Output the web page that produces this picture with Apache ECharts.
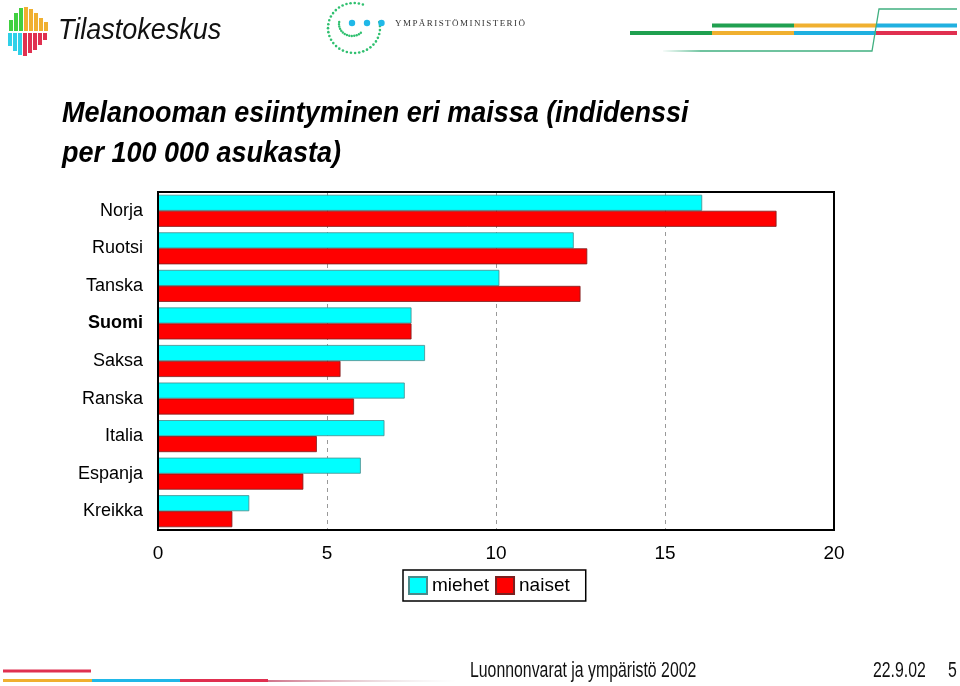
<!DOCTYPE html>
<html>
<head>
<meta charset="utf-8">
<script src="https://cdn.jsdelivr.net/npm/echarts@6/dist/echarts.min.js"></script>
<style>
html,body{margin:0;padding:0;background:#fff;}
#main{width:960px;height:686px;}
</style>
</head>
<body>
<div id="main"></div>
<script>
const categories = ['Norja','Ruotsi','Tanska','Suomi','Saksa','Ranska','Italia','Espanja','Kreikka'];
const miehet = [16.1, 12.3, 10.1, 7.5, 7.9, 7.3, 6.7, 6.0, 2.7];
const naiset = [18.3, 12.7, 12.5, 7.5, 5.4, 5.8, 4.7, 4.3, 2.2];
const xTicks = [0, 5, 10, 15, 20];
const titleLines = ['Melanooman esiintyminen eri maissa (indidenssi', 'per 100 000 asukasta)'];
const footerText = 'Luonnonvarat ja ympäristö 2002';
const dateText = '22.9.02';
const pageText = '5';

const SANS = "'Liberation Sans',Arial,sans-serif";

const chart = echarts.init(document.getElementById('main'), null, {renderer: 'canvas'});

const graphics = [];
// Tilastokeskus logo stripes
const topStripes = [[9,20,31,'#40d040'],[14,13,31,'#40d040'],[19,8,31,'#40d040'],[24,7,31,'#f0b030'],[29,9,31,'#f0b030'],[34,13,31,'#f0b030'],[39,18,31,'#f0b030'],[44,22,31,'#f0b030']];
const botStripes = [[8,33,46,'#30d0e8'],[13,33,51,'#30d0e8'],[18,33,55,'#30d0e8'],[23,33,56,'#e03050'],[28,33,53,'#e03050'],[33,33,50,'#e03050'],[38,33,45,'#e03050'],[43,33,40,'#e03050']];
topStripes.concat(botStripes).forEach(s => {
  graphics.push({type:'rect', shape:{x:s[0], y:s[1], width:4, height:s[2]-s[1]}, style:{fill:s[3]}, silent:true});
});
graphics.push({type:'text', x:58, y:16, scaleX:0.9, style:{text:'Tilastokeskus', font:"italic 30px " + SANS, fill:'#111'}, silent:true});

// Ympäristöministeriö logo (dotted arcs)
for (let i = 0; i < 34; i++) {
  const a = (-70 - i * 9.2) * Math.PI / 180;
  graphics.push({type:'circle', shape:{cx:354 + 26*Math.cos(a), cy:28 + 25*Math.sin(a), r:1.3}, style:{fill:'#30c070'}, silent:true});
}
for (let i = 0; i < 14; i++) {
  const a = (190 - i * 11) * Math.PI / 180;
  graphics.push({type:'circle', shape:{cx:352 + 13*Math.cos(a), cy:24 + 12*Math.sin(a), r:1.2}, style:{fill:'#30c070'}, silent:true});
}
[352, 367, 381.5].forEach(x => graphics.push({type:'circle', shape:{cx:x, cy:23, r:3.2}, style:{fill:'#20b8e8'}, silent:true}));
const ym = 'YMPÄRISTÖMINISTERIÖ';
const ymFont = "9px 'Liberation Serif','DejaVu Serif',serif";
(function(){
  const ctx = document.createElement('canvas').getContext('2d');
  ctx.font = ymFont;
  const widths = Array.from(ym).map(c => ctx.measureText(c).width);
  const total = widths.reduce((a,b)=>a+b,0);
  const extra = (130 - total) / (ym.length - 1);
  let x = 395;
  Array.from(ym).forEach((c, i) => {
    graphics.push({type:'text', x:x, y:19, style:{text:c, font:ymFont, fill:'#333'}, silent:true});
    x += widths[i] + extra;
  });
})();

// top right lines
const segs = [
  [630,712,33,'#20a050'],[712,794,33,'#f0b030'],[794,876,33,'#20b0e0'],[876,957,33,'#e03050'],
  [712,794,25.5,'#20a050'],[794,876,25.5,'#f0b030'],[876,957,25.5,'#20b0e0']
];
segs.forEach(s => graphics.push({type:'line', shape:{x1:s[0], y1:s[2], x2:s[1], y2:s[2]}, style:{stroke:s[3], lineWidth:4}, silent:true}));
graphics.push({type:'polyline', shape:{points:[[700,51],[872,51],[879,9],[957,9]]}, style:{stroke:'#40b080', lineWidth:1.3, fill:null}, silent:true});
graphics.push({type:'line', shape:{x1:663, y1:51, x2:700, y2:51}, style:{stroke:new echarts.graphic.LinearGradient(0,0,1,0,[{offset:0,color:'rgba(64,176,128,0)'},{offset:1,color:'#40b080'}]), lineWidth:1.3}, silent:true});

// footer lines
graphics.push({type:'line', shape:{x1:3, y1:671, x2:91, y2:671}, style:{stroke:'#e03050', lineWidth:3}, silent:true});
[[3,92,'#f0b030'],[92,180,'#20b8e8'],[180,268,'#e03050']].forEach(s => graphics.push({type:'line', shape:{x1:s[0], y1:680.5, x2:s[1], y2:680.5}, style:{stroke:s[2], lineWidth:3}, silent:true}));
graphics.push({type:'line', shape:{x1:268, y1:681, x2:455, y2:681}, style:{stroke:new echarts.graphic.LinearGradient(0,0,1,0,[{offset:0,color:'#c04060'},{offset:1,color:'rgba(200,200,200,0)'}]), lineWidth:1.5}, silent:true});

// footer text (condensed via scaleX)
graphics.push({type:'text', x:470, y:660, scaleX:0.72, style:{text:footerText, font:'22px ' + SANS, fill:'#111'}, silent:true});
graphics.push({type:'text', x:873, y:660, scaleX:0.72, style:{text:dateText, font:'22px ' + SANS, fill:'#111'}, silent:true});
graphics.push({type:'text', x:948, y:660, scaleX:0.72, style:{text:pageText, font:'22px ' + SANS, fill:'#111'}, silent:true});

// title (condensed via scaleX)
graphics.push({type:'text', x:62, y:94, scaleX:0.93, style:{text:titleLines.join('\n'), font:'bold italic 29px ' + SANS, lineHeight:40, fill:'#000'}, silent:true});

// plot frame drawn above dashed grid lines (same box as grid)
graphics.push({type:'rect', z:100, shape:{x:158, y:192, width:676, height:338}, style:{fill:null, stroke:'#000', lineWidth:2}, silent:true});

chart.setOption({
  animation:false,
  backgroundColor:'#fff',
  graphic: graphics,
  grid:{left:158, right:126, top:192, bottom:156, show:false},
  legend:{
    data:['miehet','naiset'], left:403, top:570, itemWidth:18, itemHeight:17, itemGap:6,
    borderColor:'#000', borderWidth:1.5, padding:[6,16,6,5],
    icon:'rect',
    textStyle:{fontFamily:SANS, fontSize:19, color:'#000', padding:[0,0,0,0]}
  },
  xAxis:{
    type:'value', min:0, max:20, interval:5,
    axisLine:{show:false}, axisTick:{show:false},
    splitLine:{show:true, lineStyle:{type:[4,4], color:'#999', width:1}},
    axisLabel:{fontFamily:SANS, fontSize:19, color:'#000', margin:14,
      formatter: v => xTicks.includes(v) ? String(v) : ''}
  },
  yAxis:{
    type:'category', data:categories, inverse:true,
    axisLine:{show:false}, axisTick:{show:false},
    axisLabel:{fontFamily:SANS, fontSize:18, color:'#000', margin:15,
      formatter: v => v === 'Suomi' ? '{b|' + v + '}' : v,
      rich:{b:{fontFamily:SANS, fontSize:18, fontWeight:'bold', color:'#000'}}}
  },
  series:[
    {name:'miehet', type:'bar', data:miehet, barWidth:16, barGap:'0%',
      itemStyle:{color:'#00ffff', borderColor:'#4a8a8a', borderWidth:0.8}},
    {name:'naiset', type:'bar', data:naiset, barWidth:16, barGap:'0%',
      itemStyle:{color:'#ff0000', borderColor:'#7a2020', borderWidth:0.8}}
  ]
});
</script>
</body>
</html>
